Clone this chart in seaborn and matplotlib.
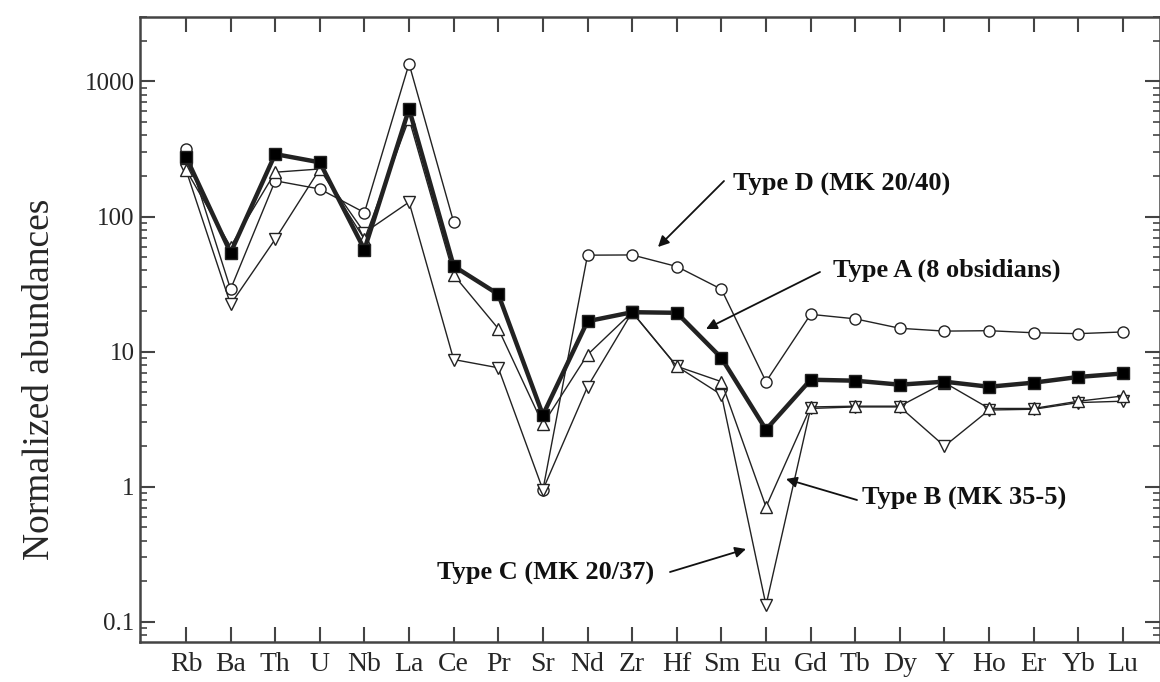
import numpy as np
import pandas as pd
import matplotlib
matplotlib.use("Agg")
import matplotlib.pyplot as plt
import seaborn as sns

# ---------------- data ----------------
elements = ["Rb", "Ba", "Th", "U", "Nb", "La", "Ce", "Pr", "Sr", "Nd", "Zr",
            "Hf", "Sm", "Eu", "Gd", "Tb", "Dy", "Y", "Ho", "Er", "Yb", "Lu"]

type_a = [277, 54, 290, 252, 57, 627, 43, 26.6, 3.4, 16.8, 19.6,
          19.4, 9.0, 2.65, 6.2, 6.1, 5.7, 6.0, 5.5, 5.9, 6.5, 6.9]
type_b = [222, 60, 213, 225, 68, 528, 37, 14.8, 2.9, 9.5, 19.6,
          7.8, 6.0, 0.71, 3.9, 3.95, 3.95, 5.9, 3.8, 3.8, 4.3, 4.7]
type_c = [222, 22.4, 68, 225, 76, 128, 8.75, 7.6, 0.95, 5.5, 19.6,
          7.8, 4.8, 0.133, 3.8, 3.9, 3.9, 2.0, 3.7, 3.75, 4.2, 4.3]
type_d = [316, 29, 184, 160, 107, 1352, 91, np.nan, 0.95, 51.8, 52,
          42.7, 29, 6.0, 18.9, 17.5, 14.9, 14.2, 14.3, 13.8, 13.6, 14.0]

ytick_vals = [0.1, 1, 10, 100, 1000]
ytick_labels = ["0.1", "1", "10", "100", "1000"]

# ---------------- style ----------------
sns.set_theme(style="ticks")
plt.rcParams["font.family"] = ["Liberation Serif", "DejaVu Serif"]
plt.rcParams["axes.linewidth"] = 1.5

W, H = 1160, 682
fig = plt.figure(figsize=(W / 100, H / 100), dpi=100)
L, R, T, B = 140, 1160, 17, 642
ax = fig.add_axes([L / W, 1 - B / H, (R - L) / W, (B - T) / H])

xpos = np.arange(len(elements))
ink = "#222222"


def draw(values, marker, lw, ms, mfc, z):
    df = pd.DataFrame({"x": xpos, "y": values})
    # split at missing values so gaps stay gaps
    valid = df["y"].notna()
    grp = (~valid).cumsum()
    for _, seg in df[valid].groupby(grp[valid]):
        sns.lineplot(data=seg, x="x", y="y", ax=ax, color=ink, lw=lw,
                     marker=marker, ms=ms, mfc=mfc, mec=ink, mew=1.0,
                     zorder=z, legend=False, errorbar=None)


draw(type_d, "o", 1.0, 8, "white", 3)
draw(type_c, "v", 1.0, 8, "white", 3)
draw(type_b, "^", 1.0, 8, "white", 3)
draw(type_a, "s", 3.2, 8, "black", 5)

ax.set_yscale("log")
ax.set_ylim(0.071, 3000)
ax.set_xlim(-1.03, 21.83)
ax.set_xticks(xpos)
ax.set_xticklabels(elements, fontsize=20)
ax.set_yticks(ytick_vals)
ax.set_yticklabels(ytick_labels, fontsize=18)
ax.set_xlabel("")
ax.set_ylabel("Normalized abundances", fontsize=27)
ax.yaxis.set_label_coords(-0.081, 0.42)

ax.tick_params(axis="both", which="major", direction="in", length=11,
               width=1.5, color="#444444", top=True, right=True)
ax.tick_params(axis="y", which="major", pad=4)
ax.tick_params(axis="x", which="major", pad=7)
ax.tick_params(axis="y", which="minor", direction="in", length=5,
               width=1.2, color="#444444", right=True)
ax.tick_params(axis="x", which="minor", bottom=False, top=False)
for s in ax.spines.values():
    s.set_color("#444444")
    s.set_linewidth(1.8)


def ff(px, py):
    return (px / W, 1 - py / H)


annots = [
    ("Type D (MK 20/40)", (733, 184), (724, 181), (658, 247)),
    ("Type A (8 obsidians)", (833, 270), (820, 272), (706, 329)),
    ("Type B (MK 35-5)", (862, 498), (857, 500), (786, 479)),
    ("Type C (MK 20/37)", (437, 573), (670, 572), (746, 549)),
]
for text, tpos, tail, head in annots:
    fig.text(*ff(*tpos), text, fontsize=19, fontweight="bold",
             ha="left", va="center", color="#111111")
    ax.annotate("", xy=ff(*head), xycoords="figure fraction",
                xytext=ff(*tail), textcoords="figure fraction",
                arrowprops=dict(arrowstyle="-|>", color="#111111", lw=1.3,
                                mutation_scale=16, shrinkA=0, shrinkB=0))

fig.savefig("out.png", dpi=100)
